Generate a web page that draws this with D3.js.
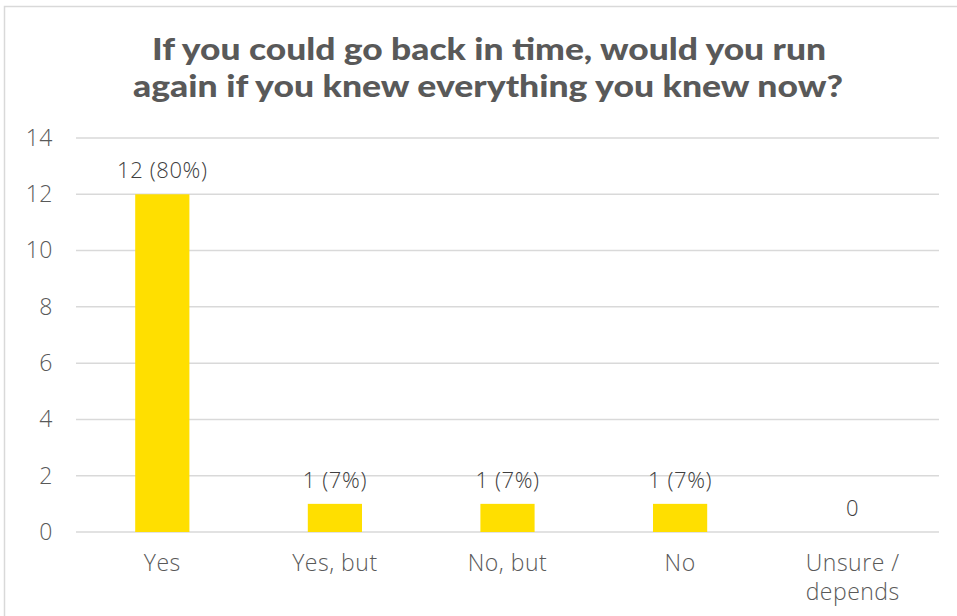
<!DOCTYPE html>
<html>
<head>
<meta charset="utf-8">
<script src="https://cdn.jsdelivr.net/npm/d3@7"></script>
<style>
  body { margin: 0; background: #fff; }
  text { font-family: "Open Sans", Lato, sans-serif; font-weight: 300; }
</style>
</head>
<body>
<div id="chart"></div>
<script>
// Data
var categories = ["Yes", "Yes, but", "No, but", "No", "Unsure / depends"];
var counts = [12, 1, 1, 1, 0];
var labels = ["12 (80%)", "1 (7%)", "1 (7%)", "1 (7%)", "0"];
var yTicks = [0, 2, 4, 6, 8, 10, 12, 14];

var W = 957, H = 616;
var margin = { top: 138, right: 18, bottom: 84, left: 76 },
    width = W - margin.left - margin.right,
    height = H - margin.top - margin.bottom;

var root = d3.select("#chart").append("svg")
    .attr("width", W)
    .attr("height", H);

// chart border
root.append("rect")
    .attr("x", 4.5).attr("y", 6.5)
    .attr("width", W).attr("height", H)
    .attr("fill", "none")
    .attr("stroke", "#d9d9d9")
    .attr("stroke-width", 1.5);

// title
var title = root.append("text")
    .attr("text-anchor", "middle")
    .style("font-family", "Lato, sans-serif")
    .style("font-size", "31px")
    .style("font-weight", "900")
    .style("fill", "#595959");
title.append("tspan").attr("x", 489).attr("y", 60)
    .attr("textLength", 674).attr("lengthAdjust", "spacingAndGlyphs")
    .text("If you could go back in time, would you run");
title.append("tspan").attr("x", 488).attr("y", 97)
    .attr("textLength", 710).attr("lengthAdjust", "spacingAndGlyphs")
    .text("again if you knew everything you knew now?");

var svg = root.append("g")
    .attr("transform", `translate(${margin.left},${margin.top})`);

var x = d3.scaleBand()
    .domain(categories)
    .range([0, width])
    .paddingInner(0.686)
    .paddingOuter(0.343);

var y = d3.scaleLinear()
    .domain([0, 14])
    .range([height, 0]);

// gridlines
svg.selectAll(".grid")
    .data(yTicks)
    .enter()
    .append("line")
    .attr("x1", 0)
    .attr("x2", width)
    .attr("y1", d => y(d))
    .attr("y2", d => y(d))
    .attr("stroke", "#d9d9d9")
    .attr("stroke-width", 1.5);

// y axis labels
var yAxis = svg.append("g")
    .call(d3.axisLeft(y).tickValues(yTicks).tickSize(0).tickPadding(23));
yAxis.select(".domain").remove();
yAxis.selectAll("text")
    .style("font-size", "23px")
    .style("font-family", "'Open Sans', sans-serif")
    .style("font-weight", "300")
    .style("letter-spacing", "0.5px")
    .style("fill", "#595959");

// bars
svg.selectAll(".bar")
    .data(categories)
    .enter()
    .append("rect")
    .attr("x", d => x(d))
    .attr("y", (d, i) => y(counts[i]))
    .attr("width", x.bandwidth())
    .attr("height", (d, i) => height - y(counts[i]))
    .attr("fill", "#ffdf00");

// value labels
svg.selectAll(".val")
    .data(categories)
    .enter()
    .append("text")
    .attr("x", d => x(d) + x.bandwidth() / 2)
    .attr("y", (d, i) => y(counts[i]) - 16)
    .attr("text-anchor", "middle")
    .style("font-size", "22px")
    .style("letter-spacing", "0.6px")
    .style("fill", "#404040")
    .text((d, i) => labels[i]);

// category labels
var cat = svg.selectAll(".cat")
    .data(categories)
    .enter()
    .append("text")
    .attr("text-anchor", "middle")
    .style("font-size", "23px")
    .style("letter-spacing", "0.5px")
    .style("fill", "#595959");
cat.each(function (d) {
    var cx = x(d) + x.bandwidth() / 2;
    var lines = d === "Unsure / depends" ? ["Unsure /", "depends"] : [d];
    var t = d3.select(this);
    lines.forEach(function (l, k) {
        t.append("tspan").attr("x", cx).attr("y", height + 39 + k * 29).text(l);
    });
});
</script>
</body>
</html>
